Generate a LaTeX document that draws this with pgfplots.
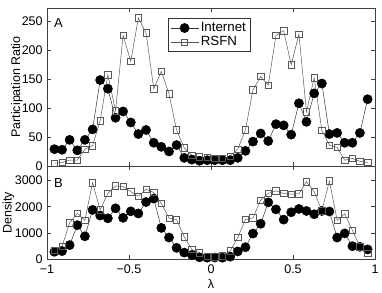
\documentclass[border=0pt]{standalone}
\usepackage{fontspec}
\setmainfont{Liberation Sans}
\usepackage{pgfplots}
\usepackage{pgfplotstable}
\pgfplotsset{compat=1.18}
\pgfplotstableread{
x inet rsfn
-0.955 29 5
-0.908 28 6
-0.862 45 10
-0.815 27 10
-0.769 45 29
-0.722 63 35
-0.676 148 78
-0.629 133 157
-0.582 83 95
-0.536 94 225
-0.489 75 180
-0.443 55 255
-0.396 62 229
-0.349 40 133
-0.303 33 163
-0.256 25 124
-0.210 36 62
-0.163 14 31
-0.117 11 18
-0.070 9 16
-0.023 10 15
0.023 10 13
0.070 10 13
0.117 10 17
0.163 14 29
0.210 26 62
0.256 42 131
0.303 56 154
0.349 43 139
0.396 72 225
0.443 70 233
0.489 54 174
0.536 108 227
0.582 76 93
0.629 125 152
0.676 142 61
0.722 55 36
0.769 57 32
0.815 40 10
0.862 40 13
0.908 57 8
0.955 115 6
}\prdata
\pgfplotstableread{
x inet rsfn
-0.955 287 350
-0.908 313 500
-0.862 540 1390
-0.815 1300 1753
-0.769 876 1478
-0.722 1880 2917
-0.676 1665 1880
-0.629 1560 2510
-0.582 1940 2793
-0.536 1580 2770
-0.489 1825 2575
-0.443 1745 2400
-0.396 2180 2669
-0.349 2310 2541
-0.303 1195 2128
-0.256 830 1570
-0.210 436 1510
-0.163 255 850
-0.117 165 376
-0.070 75 248
-0.023 62 120
0.023 70 100
0.070 62 130
0.117 100 323
0.163 300 827
0.210 460 1515
0.256 980 1579
0.303 1353 2255
0.349 2167 2504
0.396 1900 2605
0.443 1510 2504
0.489 1790 2480
0.536 1917 2490
0.582 1840 2955
0.629 1715 2575
0.676 1840 1850
0.722 1820 2980
0.769 827 1478
0.815 985 1729
0.862 500 1110
0.908 475 480
0.955 376 225
}\dendata
\begin{document}
\fontsize{12.5}{14}\selectfont
\begin{tikzpicture}
\pgfplotsset{
  myaxis/.style={
    scale only axis, width=328pt,
    xmin=-1, xmax=1,
    xtick={-1,-0.5,0,0.5,1},
    tick align=inside, major tick length=4pt,
    axis line style={black!75, line width=0.6pt},
    tick style={black!75, line width=0.5pt},
    font=\fontsize{12.5}{14}\selectfont,
    /pgf/number format/assume math mode=true,
    /pgf/number format/1000 sep={},
    scaled y ticks=false,
  },
  inet/.style={black!80, line width=0.5pt, mark=*, mark size=4.6pt,
    mark options={fill=black, draw=black}},
  rsfn/.style={black!65, line width=0.5pt, mark=square, mark size=3.2pt,
    mark options={fill=white, draw=black!65, line width=0.6pt}},
}
\begin{axis}[myaxis, name=top, at={(0,0)}, anchor=north west,
  height=158pt, ymin=0, ymax=272, ytick={0,50,100,150,200,250},
  xticklabels={},
  ylabel={Participation Ratio},
  every axis y label/.style={at={(axis description cs:-0.0915,0.5)}, rotate=90, anchor=center},
  legend style={at={(0.369,0.935)}, anchor=north west, draw=black!80,
    line width=0.5pt, font=\fontsize{13.3}{15}\selectfont,
    row sep=-1pt, inner sep=2pt},
  legend cell align=left,
  legend image code/.code={\draw[mark repeat=2,mark phase=2,#1] plot coordinates {(0pt,0pt)(14pt,0pt)(28pt,0pt)};},
]
\addplot[inet] table[x=x,y=inet] {\prdata};
\addlegendentry{Internet}
\addplot[rsfn] table[x=x,y=rsfn] {\prdata};
\addlegendentry{RSFN}
\node[anchor=center, font=\fontsize{13}{15}\selectfont] at (rel axis cs:0.035,0.905) {A};
\end{axis}
\begin{axis}[myaxis, name=bot, at={(top.south west)}, anchor=north west,
  height=93.3pt, ymin=0, ymax=3550, ytick={0,1000,2000,3000},
  xticklabels={−1,−0.5,0,0.5,1},
  xticklabel style={yshift=-1pt},
  xlabel={λ}, xlabel style={yshift=3pt},
  ylabel={Density},
  every axis y label/.style={at={(axis description cs:-0.118,0.5)}, rotate=90, anchor=center},
]
\addplot[inet] table[x=x,y=inet] {\dendata};
\addplot[rsfn] table[x=x,y=rsfn] {\dendata};
\node[anchor=center, font=\fontsize{13}{15}\selectfont] at (rel axis cs:0.035,0.82) {B};
\end{axis}
\pgfresetboundingbox
\path[use as bounding box] (-47pt,8pt) rectangle (335pt,-284pt);
\end{tikzpicture}
\end{document}
